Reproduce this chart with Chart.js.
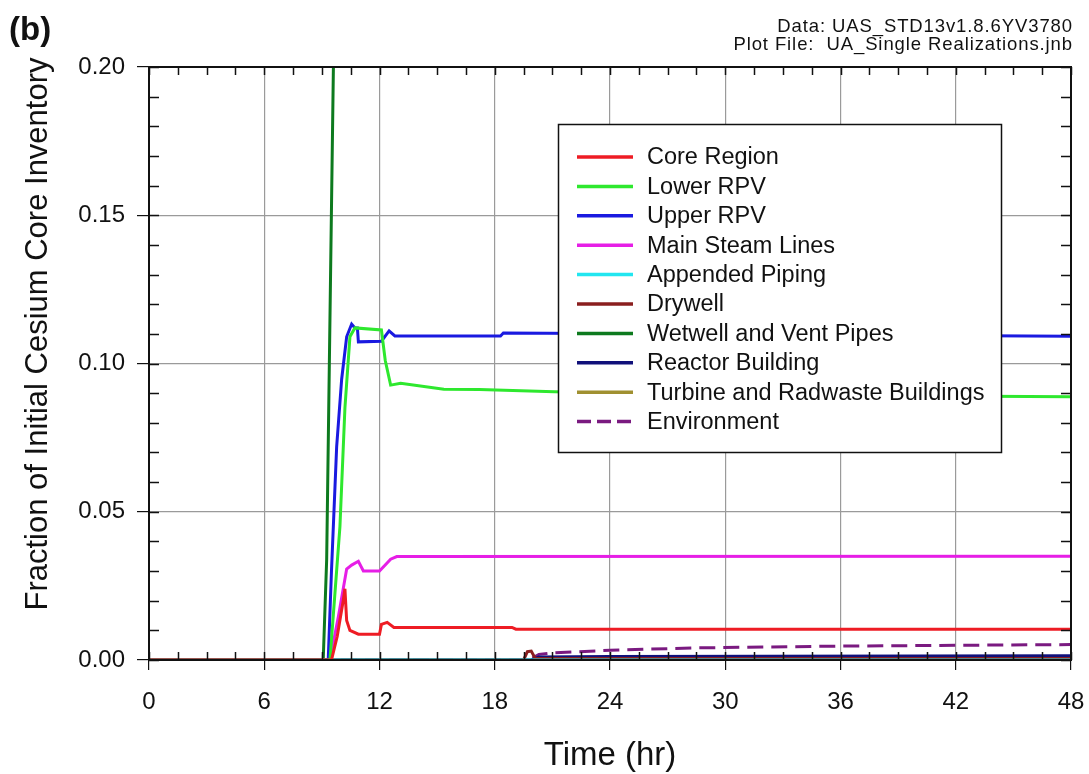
<!DOCTYPE html>
<html>
<head>
<meta charset="utf-8">
<script src="https://cdn.jsdelivr.net/npm/chart.js@4/dist/chart.umd.min.js"></script>
<style>
  html, body { margin: 0; padding: 0; background: #ffffff; }
  #wrap { position: relative; width: 1089px; height: 774px; overflow: hidden; }
  canvas { position: absolute; left: 0; top: 0; }
  .hdr { position: absolute; font-family: "Liberation Sans", Arial, sans-serif; color: #111; white-space: pre; line-height: 1; }
  #lbl { left: 9px; top: 12px; font-size: 33px; font-weight: bold; }
  #d1 { right: 16px; top: 17px; font-size: 18.5px; letter-spacing: 0.9px; text-align: right; }
  #d2 { right: 16px; top: 35px; font-size: 18.5px; letter-spacing: 0.9px; text-align: right; }
</style>
</head>
<body>
<div id="wrap">
  <canvas id="c" width="1089" height="774"></canvas>
  <div class="hdr" id="lbl">(b)</div>
  <div class="hdr" id="d1">Data: UAS_STD13v1.8.6YV3780</div>
  <div class="hdr" id="d2">Plot File:  UA_Single Realizations.jnb</div>
</div>
<script>
// ---- tick labels ----
const xTickLabels = [0, 6, 12, 18, 24, 30, 36, 42, 48];
const yTickLabels = [0.00, 0.05, 0.10, 0.15, 0.20];

// ---- series (time in hr, fraction of initial Cs inventory) ----
const coreT  = [0, 9.5, 9.8, 10.11, 10.2, 10.29, 10.46, 10.9, 12.0, 12.1, 12.4, 12.75, 18.9, 19.1, 48];
const coreV  = [0, 0, 0.008, 0.020, 0.024, 0.0133, 0.010, 0.0087, 0.0087, 0.012, 0.0127, 0.0110, 0.0110, 0.0104, 0.0104];

const lowerT = [0, 9.42, 9.94, 10.2, 10.46, 10.72, 12.1, 12.3, 12.58, 13.1, 15.35, 17.2, 21.1, 30, 48];
const lowerV = [0, 0, 0.045, 0.085, 0.109, 0.112, 0.1113, 0.101, 0.0927, 0.0933, 0.0913, 0.0912, 0.0905, 0.0895, 0.0888];

const upperT = [0, 9.33, 9.5, 9.77, 10.03, 10.29, 10.55, 10.72, 10.85, 10.9, 12.1, 12.5, 12.8, 18.3, 18.45, 48];
const upperV = [0, 0, 0.03, 0.072, 0.0947, 0.109, 0.1133, 0.112, 0.112, 0.1073, 0.1075, 0.111, 0.1093, 0.1093, 0.1103, 0.1092];

const steamT = [0, 9.42, 9.86, 10.29, 10.55, 10.9, 11.16, 12.0, 12.58, 12.9, 48];
const steamV = [0, 0, 0.0147, 0.0307, 0.032, 0.0333, 0.030, 0.030, 0.034, 0.0349, 0.035];

const pipingT = [0, 48];
const pipingV = [0, 0];

const drywellT = [0, 19.5, 19.7, 19.9, 20.1, 48];
const drywellV = [0, 0, 0.0028, 0.003, 0.0006, 0.0005];

const wetwellT = [0, 9.07, 9.25, 9.6, 9.8, 48];
const wetwellV = [0, 0, 0.034, 0.2, 0.5, 0.5];

const reactorT = [0, 19.9, 20.3, 24, 48];
const reactorV = [0, 0, 0.0010, 0.0012, 0.0014];

const turbineT = [0, 19.9, 20.3, 48];
const turbineV = [0, 0, 0.0003, 0.0004];

const envT = [0, 19.8, 20.3, 21, 24, 28.6, 36, 48];
const envV = [0, 0, 0.0019, 0.0024, 0.0033, 0.0041, 0.0047, 0.0052];

const seriesNames = ['Core Region', 'Lower RPV', 'Upper RPV', 'Main Steam Lines', 'Appended Piping',
  'Drywell', 'Wetwell and Vent Pipes', 'Reactor Building', 'Turbine and Radwaste Buildings', 'Environment'];
const seriesColors = ['#ee1c24', '#2ee82e', '#1a1ae0', '#e61ee6', '#22e6f0',
  '#8a1e1e', '#0d7a1e', '#10107a', '#a09030', '#7a1a80'];

const yTitle = 'Fraction of Initial Cesium Core Inventory';

const seriesT = [coreT, lowerT, upperT, steamT, pipingT, drywellT, wetwellT, reactorT, turbineT, envT];
const seriesV = [coreV, lowerV, upperV, steamV, pipingV, drywellV, wetwellV, reactorV, turbineV, envV];

function pts(t, v) { return t.map((x, i) => ({ x: x, y: v[i] })); }

const datasets = seriesNames.map((name, i) => ({
  label: name,
  data: pts(seriesT[i], seriesV[i]),
  borderColor: seriesColors[i],
  backgroundColor: seriesColors[i],
  borderWidth: 3,
  borderDash: i === 9 ? [16, 8] : [],
  pointRadius: 0,
  tension: 0,
  fill: false
}));

const FONT = '"Liberation Sans", Arial, sans-serif';

// minor ticks + frame + y title
const framePlugin = {
  id: 'frame',
  afterDatasetsDraw(chart) {
    const { ctx, chartArea: a, scales } = chart;
    const xs = scales.x, ys = scales.y;
    ctx.save();
    ctx.strokeStyle = '#111';
    ctx.lineWidth = 1.5;
    for (let t = 0; t <= 48.001; t += 1.5) {
      const px = Math.round(xs.getPixelForValue(t)) + 0.5;
      ctx.beginPath();
      ctx.moveTo(px, a.bottom); ctx.lineTo(px, a.bottom - 8);
      ctx.moveTo(px, a.top); ctx.lineTo(px, a.top + 8);
      ctx.stroke();
    }
    for (let k = 0; k <= 20; k++) {
      const py = Math.round(ys.getPixelForValue(k * 0.01)) + 0.5;
      ctx.beginPath();
      ctx.moveTo(a.left, py); ctx.lineTo(a.left + 10, py);
      ctx.moveTo(a.right, py); ctx.lineTo(a.right - 10, py);
      ctx.stroke();
    }
    ctx.lineWidth = 2;
    ctx.strokeRect(a.left, a.top, a.right - a.left, a.bottom - a.top);
    ctx.translate(38, 334);
    ctx.rotate(-Math.PI / 2);
    ctx.font = '31px ' + FONT;
    ctx.fillStyle = '#111';
    ctx.textAlign = 'center';
    ctx.textBaseline = 'middle';
    ctx.fillText(yTitle, 0, 0);
    ctx.restore();
  }
};

// legend box inside plot
const legendPlugin = {
  id: 'boxLegend',
  afterDraw(chart) {
    const { ctx } = chart;
    const L = 558, T = 124, R = 1001, B = 452;
    ctx.save();
    ctx.fillStyle = '#ffffff';
    ctx.fillRect(L, T, R - L, B - T);
    ctx.strokeStyle = '#111';
    ctx.lineWidth = 1.5;
    ctx.strokeRect(L + 0.5, T + 0.5, R - L, B - T);
    ctx.font = '23.5px ' + FONT;
    ctx.textBaseline = 'middle';
    ctx.textAlign = 'left';
    chart.data.datasets.forEach((ds, i) => {
      const y = 157 + i * 29.4;
      ctx.strokeStyle = ds.borderColor;
      ctx.lineWidth = 3.5;
      ctx.setLineDash(ds.borderDash && ds.borderDash.length ? [14, 6] : []);
      ctx.beginPath();
      ctx.moveTo(577, y); ctx.lineTo(633, y);
      ctx.stroke();
      ctx.setLineDash([]);
      ctx.fillStyle = '#111';
      ctx.fillText(ds.label, 647, y + 1);
    });
    ctx.restore();
  }
};

new Chart(document.getElementById('c'), {
  type: 'line',
  data: { datasets: datasets },
  plugins: [framePlugin, legendPlugin],
  options: {
    responsive: false,
    animation: false,
    devicePixelRatio: 1,
    layout: { padding: { top: 67, right: 18, bottom: 0, left: 0 } },
    plugins: { legend: { display: false }, tooltip: { enabled: false } },
    scales: {
      x: {
        type: 'linear',
        min: 0, max: 48,
        afterBuildTicks(scale) { scale.ticks = xTickLabels.map(v => ({ value: v })); },
        afterFit(scale) { scale.height = 114; scale.paddingLeft = 0; scale.paddingRight = 0; },
        ticks: { color: '#111', font: { family: FONT, size: 24 }, padding: 18, maxRotation: 0,
                 callback: v => String(v) },
        grid: {
          color: ctx => (ctx.tick && (ctx.tick.value === 0 || ctx.tick.value === 48)) ? 'rgba(0,0,0,0)' : '#9a9a9a',
          lineWidth: 1.2,
          tickColor: '#111',
          tickLength: 10,
          drawTicks: true
        },
        border: { display: true, color: '#111', width: 2 },
        title: { display: true, text: 'Time (hr)', color: '#111',
                 font: { family: FONT, size: 33, lineHeight: 1.1 }, padding: { top: 0, bottom: 0 } }
      },
      y: {
        type: 'linear',
        min: 0, max: 0.2,
        afterBuildTicks(scale) { scale.ticks = yTickLabels.map(v => ({ value: v })); },
        afterFit(scale) { scale.width = 149; },
        ticks: { color: '#111', font: { family: FONT, size: 24 }, padding: 12,
                 callback: v => Number(v).toFixed(2) },
        grid: {
          color: ctx => (ctx.tick && (ctx.tick.value === 0 || Math.abs(ctx.tick.value - 0.2) < 1e-9)) ? 'rgba(0,0,0,0)' : '#9a9a9a',
          lineWidth: 1.2,
          tickColor: '#111',
          tickLength: 12,
          drawTicks: true
        },
        border: { display: true, color: '#111', width: 2 },
        title: { display: false }
      }
    }
  }
});
</script>
</body>
</html>
